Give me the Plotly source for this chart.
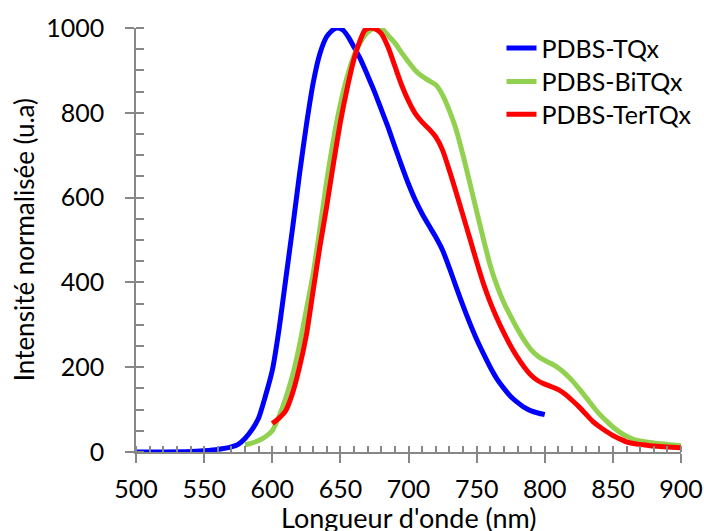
import plotly.graph_objects as go

# ---- data ----
tqx_x = [500, 520, 540, 550, 560, 570, 575, 580, 585, 590, 595, 600, 605, 610, 615, 620, 625, 630, 635, 640,
         645, 648, 652, 656, 660, 665, 670, 675, 680, 685, 690, 695, 700, 705, 710, 715, 720, 725, 730, 735,
         740, 745, 750, 755, 760, 765, 770, 775, 780, 785, 790, 795, 800]
tqx_y = [0, 0, 1, 3, 6, 12, 18, 32, 52, 80, 132, 192, 290, 410, 530, 655, 770, 870, 940, 980,
         997, 1000, 995, 978, 955, 925, 888, 850, 808, 766, 720, 675, 632, 594, 562, 534, 507, 476, 434, 389,
         345, 304, 266, 232, 200, 172, 150, 131, 117, 105, 97, 92, 88]

bitqx_x = [580, 585, 590, 595, 600, 605, 610, 615, 620, 625, 630, 635, 640, 645, 650, 655, 660, 665, 670, 675,
           678, 681, 684, 690, 694, 700, 705, 710, 715, 720, 725, 730, 735, 740, 745, 750, 755, 760, 765, 770,
           775, 780, 785, 790, 795, 800, 805, 810, 815, 820, 825, 830, 835, 840, 845, 850, 855, 860, 865, 870,
           880, 890, 900]
bitqx_y = [17, 21, 27, 36, 50, 84, 128, 182, 252, 335, 420, 527, 640, 738, 820, 885, 935, 968, 990, 1000,
           1000, 997, 986, 965, 946, 920, 900, 886, 876, 866, 842, 805, 760, 700, 635, 568, 502, 440, 392, 352,
           320, 290, 263, 241, 226, 216, 208, 198, 185, 169, 150, 130, 109, 90, 74, 59, 47, 37, 30, 26,
           21, 18, 15]

tertqx_x = [600, 605, 610, 615, 620, 625, 630, 635, 640, 645, 650, 655, 660, 665, 668, 672, 676, 680, 685, 690,
            695, 700, 705, 710, 715, 720, 725, 730, 735, 740, 745, 750, 755, 760, 765, 770, 775, 780, 785, 790,
            795, 800, 805, 810, 815, 820, 825, 830, 835, 840, 845, 850, 855, 860, 865, 870, 880, 890, 900]
tertqx_y = [67, 80, 98, 140, 200, 275, 380, 485, 580, 682, 778, 858, 927, 975, 995, 1000, 997, 987, 955, 910,
            865, 828, 798, 778, 762, 743, 712, 664, 612, 558, 504, 449, 397, 353, 315, 281, 250, 223, 200, 181,
            168, 160, 154, 147, 136, 122, 107, 90, 73, 60, 49, 39, 31, 24, 20, 18, 14, 12, 10]

series_names = ["PDBS-TQx", "PDBS-BiTQx", "PDBS-TerTQx"]
series_x = [tqx_x, bitqx_x, tertqx_x]
series_y = [tqx_y, bitqx_y, tertqx_y]
series_colors = ["#0000FF", "#92D050", "#FF0000"]

x_title = "Longueur d'onde (nm)"
y_title = "Intensité normalisée (u.a)"

FONT = "Lato"
AX = "#878787"

fig = go.Figure()
legend_ids = ["legend", "legend2", "legend3"]
for name, xs, ys, col, lg in zip(series_names, series_x, series_y, series_colors, legend_ids):
    fig.add_trace(go.Scatter(x=xs, y=ys, name=name, mode="lines", legend=lg,
                             line=dict(color=col, width=5, shape="spline", smoothing=0.6),
                             cliponaxis=False))

legend_rows = [0.952, 0.873, 0.796]
legend_common = dict(x=0.6706, xanchor="left", yanchor="middle",
                     font=dict(family=FONT, size=25, color="#000000"),
                     bgcolor="rgba(0,0,0,0)")

fig.update_layout(
    width=704, height=531,
    margin=dict(l=136, r=23, t=28, b=79, autoexpand=False),
    paper_bgcolor="white", plot_bgcolor="white",
    font=dict(family=FONT, size=25, color="#000000"),
    showlegend=True,
    legend=dict(y=legend_rows[0], **legend_common),
    legend2=dict(y=legend_rows[1], **legend_common),
    legend3=dict(y=legend_rows[2], **legend_common),
    xaxis=dict(range=[500, 900], dtick=50, tick0=500, showgrid=False, zeroline=False,
               automargin=False,
               showline=True, linecolor=AX, linewidth=1.5,
               ticks="outside", ticklen=9, tickwidth=1.5, tickcolor=AX,
               ticklabelstandoff=5,
               tickfont=dict(family=FONT, size=25, color="#000000"),
               minor=dict(ticks="inside", dtick=10, ticklen=6, tickwidth=1.5, tickcolor=AX)),
    yaxis=dict(range=[0, 1000], dtick=200, tick0=0, showgrid=False, zeroline=False,
               automargin=False,
               showline=True, linecolor=AX, linewidth=1.5,
               ticks="outside", ticklen=9, tickwidth=1.5, tickcolor=AX,
               ticklabelstandoff=16,
               tickfont=dict(family=FONT, size=25, color="#000000"),
               minor=dict(ticks="inside", dtick=50, ticklen=8, tickwidth=1.5, tickcolor=AX)),
    annotations=[
        dict(text=x_title, xref="paper", yref="paper", x=0.5, y=-0.1535,
             xanchor="center", yanchor="middle", showarrow=False,
             font=dict(family=FONT, size=27, color="#000000")),
        dict(text=y_title, xref="paper", yref="paper", x=-0.205, y=0.5, textangle=-90,
             xanchor="center", yanchor="middle", showarrow=False,
             font=dict(family=FONT, size=26, color="#000000")),
    ],
)

fig.write_html("out.html", config={"displayModeBar": False},
               post_script="document.body.style.margin='0';")
